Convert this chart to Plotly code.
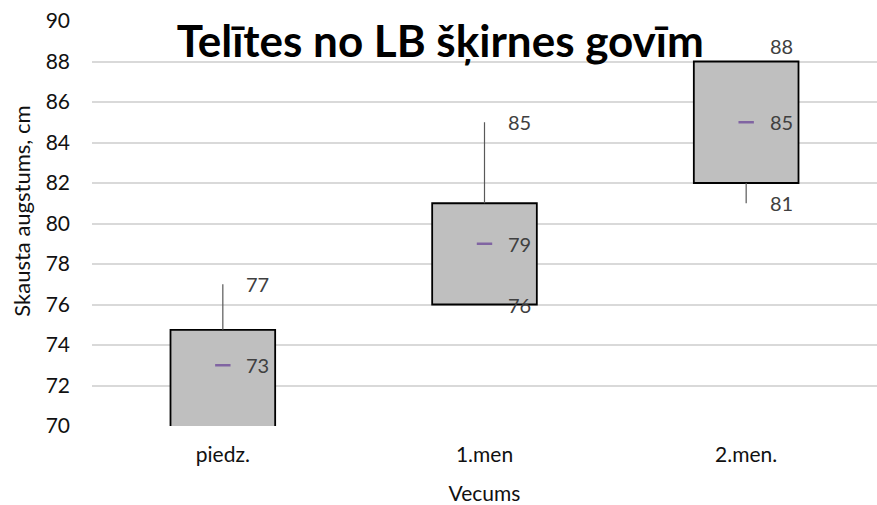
import plotly.graph_objects as go

categories = ["piedz.", "1.men", "2.men."]
box_low = [69.0, 76.0, 82.0]      # lower edge of box (first is below axis range)
box_high = [74.75, 81.0, 88.0]    # upper edge of box
whisk_low = [69.0, 76.0, 81.0]
whisk_high = [77.0, 85.0, 88.0]
medians = [73, 79, 85]

label_text = ["77", "73", "85", "79", "76", "88", "85", "81"]
label_cat = ["piedz.", "piedz.", "1.men", "1.men", "1.men", "2.men.", "2.men.", "2.men."]
label_val = [77, 73, 85, 79, 76, 88, 85, 81]
label_up = [0, 0, 0, 0, 0, 16, 0, 0]

y_ticks = list(range(70, 91, 2))

FONT = "Lato"

fig = go.Figure()

# boxes
fig.add_trace(go.Bar(
    x=categories,
    base=box_low,
    y=[h - l for h, l in zip(box_high, box_low)],
    width=0.4,
    marker=dict(color="#BFBFBF", line=dict(color="#000000", width=1.8)),
    hoverinfo="skip",
    showlegend=False,
))

# whiskers (upper and lower segments outside the box)
wx, wy = [], []
for c, bl, bh, lo, hi in zip(categories, box_low, box_high, whisk_low, whisk_high):
    if hi > bh:
        wx += [c, c, None]
        wy += [bh, hi, None]
    if lo < bl:
        wx += [c, c, None]
        wy += [lo, bl, None]
fig.add_trace(go.Scatter(
    x=wx, y=wy, mode="lines",
    line=dict(color="#595959", width=1.2),
    hoverinfo="skip", showlegend=False, cliponaxis=True,
))

# medians
fig.add_trace(go.Scatter(
    x=categories, y=medians, mode="markers",
    marker=dict(symbol="line-ew", size=11, line=dict(color="#8064A2", width=2.5)),
    hoverinfo="skip", showlegend=False,
))

for t, c, v, u in zip(label_text, label_cat, label_val, label_up):
    fig.add_annotation(
        x=c, y=v, text=t, showarrow=False,
        xshift=35, yshift=u, xanchor="center", yanchor="middle",
        font=dict(family=FONT, size=20, color="#404040"),
    )

# y axis title as an annotation (placed like the reference, slightly above plot centre)
fig.add_annotation(
    xref="paper", yref="paper", x=-0.09, y=0.53, xanchor="center", yanchor="middle",
    text="Skausta augstums, cm", textangle=-90, showarrow=False,
    font=dict(family=FONT, size=22, color="#111111"),
)

fig.update_layout(
    width=877, height=505,
    margin=dict(l=92, r=0, t=21, b=79, autoexpand=False),
    paper_bgcolor="white", plot_bgcolor="white",
    title=dict(
        text="<b>Telītes no LB šķirnes govīm</b>",
        x=0.502, xanchor="center", yref="container", y=1 - 42 / 505, yanchor="middle",
        font=dict(family=FONT, size=44, color="#000000"),
    ),
    font=dict(family=FONT, size=20, color="#111111"),
    bargap=0.6,
)

fig.update_xaxes(
    automargin=False,
    showgrid=False, zeroline=False, showline=False,
    ticks="", tickfont=dict(family=FONT, size=21, color="#111111"),
    ticklabelstandoff=14,
    title=dict(text="Vecums", font=dict(family=FONT, size=21, color="#111111"), standoff=21),
    range=[-0.5, 2.5],
)
fig.update_yaxes(
    automargin=False,
    range=[70, 90], tickvals=y_ticks,
    showgrid=True, gridcolor="#D9D9D9", gridwidth=1.5,
    zeroline=False, showline=False, ticks="",
    tickfont=dict(family=FONT, size=21, color="#111111"),
    ticklabelstandoff=21,
)

fig.write_html(
    "out.html",
    config={"displayModeBar": False},
    post_script="document.body.style.margin='0';",
)
